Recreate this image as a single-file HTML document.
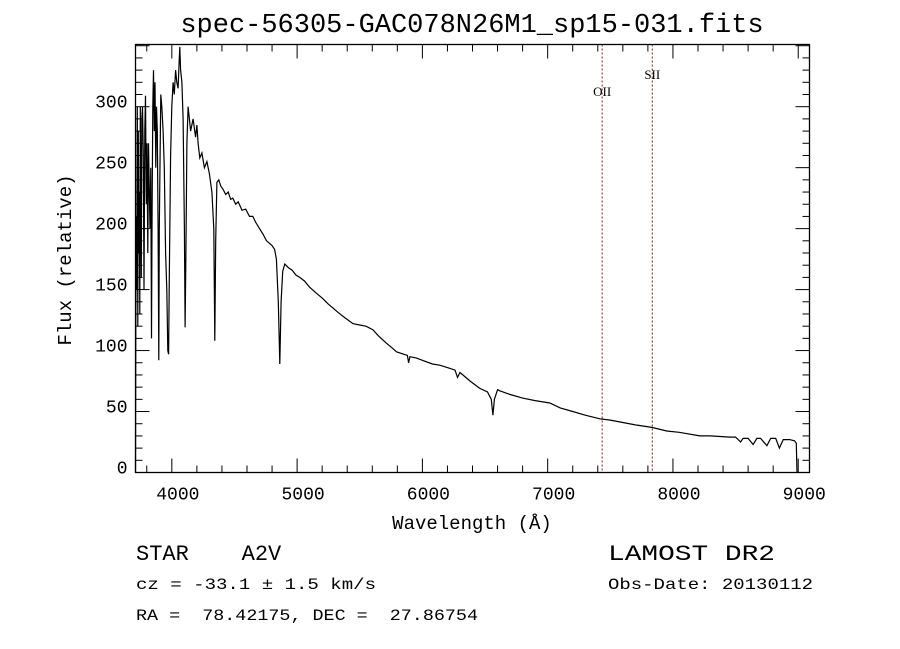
<!DOCTYPE html>
<html><head><meta charset="utf-8"><style>
body{margin:0;background:#fff;}
svg{display:block;font-family:"Liberation Mono","DejaVu Sans Mono",monospace;}
text{white-space:pre;}
</style></head><body>
<svg id="c" width="900" height="649" viewBox="0 0 900 649">
<rect width="900" height="649" fill="#fff"/>
<text x="472" y="32" font-size="27" text-anchor="middle">spec-56305-GAC078N26M1_sp15-031.fits</text>
<text x="472" y="529" font-size="19" text-anchor="middle">Wavelength (Å)</text>
<text transform="translate(71,260) rotate(-90)" font-size="19" text-anchor="middle">Flux (relative)</text>
<g id="ticks"></g>
<g id="lines"></g>
<path id="spec" fill="none" stroke="#000" stroke-width="1.2"/>
<rect x="135.5" y="44.5" width="674" height="428" fill="none" stroke="#000" stroke-width="1.3"/>
<text x="136" y="560" font-size="22" xml:space="preserve">STAR    A2V</text>
<text x="136" y="589" font-size="16" xml:space="preserve" textLength="240" lengthAdjust="spacingAndGlyphs">cz = -33.1 ± 1.5 km/s</text>
<text x="136" y="620" font-size="16" xml:space="preserve" textLength="342" lengthAdjust="spacingAndGlyphs">RA =  78.42175, DEC =  27.86754</text>
<text x="608" y="560" font-size="22" textLength="167" lengthAdjust="spacingAndGlyphs">LAMOST DR2</text>
<text x="608" y="589" font-size="16" textLength="205" lengthAdjust="spacingAndGlyphs">Obs-Date: 20130112</text>
</svg>
<script>
const wavelengths=[3710,3712,3716,3720,3724,3728,3732,3736,3740,3744,3748,3752,3756,3760,3766,3772,3778,3784,3790,3796,3802,3808,3814,3820,3826,3832,3838,3842,3848,3854,3860,3866,3872,3878,3884,3890,3896,3900,3906,3912,3920,3930,3940,3950,3960,3968,3974,3980,3990,4000,4010,4020,4030,4040,4050,4060,4064,4070,4080,4090,4100,4106,4112,4120,4130,4140,4150,4170,4190,4200,4210,4223,4240,4260,4280,4300,4320,4335,4343,4350,4360,4375,4390,4410,4430,4450,4470,4487,4510,4530,4560,4590,4620,4646,4670,4700,4730,4756,4780,4800,4820,4835,4850,4862,4872,4885,4902,4930,4960,4990,5021,5060,5100,5155,5200,5250,5286,5330,5380,5447,5500,5550,5606,5650,5713,5760,5793,5850,5880,5890,5900,5950,6000,6080,6139,6200,6260,6280,6300,6380,6458,6520,6550,6563,6575,6600,6618,6700,6800,6900,7017,7100,7200,7300,7416,7500,7600,7700,7831,7950,8050,8214,8300,8453,8500,8540,8560,8600,8640,8670,8700,8750,8780,8820,8850,8880,8930,8970,8985,8990];
const fluxes=[0,120,210,150,300,120,280,180,230,130,300,220,160,290,300,260,150,280,309,220,270,180,270,230,200,250,110,200,300,330,280,320,250,300,280,200,92,200,260,310,300,280,250,180,150,100,97,160,260,300,320,310,330,320,315,340,349,330,320,290,200,119,180,270,300,290,280,290,275,285,270,258,262,250,255,245,230,200,108,190,238,240,235,232,228,230,224,225,220,222,215,216,210,210,205,200,195,190,188,186,183,175,140,89,140,165,171,168,166,162,160,157,152,147,143,138,135,131,127,122,121,120,117,112,106,102,99,97,96,90,95,94,92,89,88,86,84,78,82,75,69,66,60,47,60,68,67,64,61,59,57,53,50,47,44,43,41,39,37,34,33,30,30,29,29,25,28,28,23,28,28,22,28,28,20,27,27,26,24,0];
const xTickValues=[4000,5000,6000,7000,8000,9000];
const xTickLabels=["4000","5000","6000","7000","8000","9000"];
const yTickValues=[0,50,100,150,200,250,300];
const yTickLabels=["0","50","100","150","200","250","300"];
const lineWavelengths=[7435,7835];
const lineLabels=["OII","SII"];
const lineLabelY=[96,79];

const X0=135.5,X1=809.5,Y0=472.5,Y1=44.5,WMIN=3710,WMAX=9090,FMIN=0,FMAX=351;
function xs(w){return X0+(w-WMIN)/(WMAX-WMIN)*(X1-X0);}
function ys(f){return Y0-(f-FMIN)/(FMAX-FMIN)*(Y0-Y1);}
const NS="http://www.w3.org/2000/svg";
const tg=document.getElementById('ticks');
function ln(x1,y1,x2,y2,n){const l=document.createElementNS(NS,'line');l.setAttribute('x1',x1);l.setAttribute('y1',y1);l.setAttribute('x2',x2);l.setAttribute('y2',y2);l.setAttribute('stroke','#000');l.setAttribute('stroke-width','1');


tg.appendChild(l);return l;}
function tx(x,y,s,anchor,n,size){const t=document.createElementNS(NS,'text');t.setAttribute('x',x);t.setAttribute('y',y);t.setAttribute('text-anchor',anchor);t.setAttribute('font-size',size);t.textContent=s;


return t;}
for(let w=3800;w<=9000;w+=200){const x=xs(w);const maj=w%1000===0;const L=maj?14:7;ln(x,Y0,x,Y0-L,'x-tick');ln(x,Y1,x,Y1+L,'x-tick-top');}
xTickValues.forEach((v,i)=>{tg.appendChild(tx(xs(v)+6,Y0+27,xTickLabels[i],'middle','x-tick-label',18));});
for(let f=0;f<=350;f+=10){const y=ys(f);const maj=f%50===0;const L=maj?14:7;ln(X0,y,X0+L,y,'y-tick');ln(X1,y,X1-L,y,'y-tick-right');}
yTickValues.forEach((v,i)=>{tg.appendChild(tx(X0-8,ys(v)+1,yTickLabels[i],'end','y-tick-label',18));});
const lg=document.getElementById('lines');
lineWavelengths.forEach((w,i)=>{const x=xs(w);const l=document.createElementNS(NS,'line');l.setAttribute('x1',x);l.setAttribute('x2',x);l.setAttribute('y1',Y1);l.setAttribute('y2',Y0);l.setAttribute('stroke','#8b1a1a');l.setAttribute('stroke-dasharray','2,2');


lg.appendChild(l);
const t=tx(x,lineLabelY[i],lineLabels[i],'middle','emission-line-label',13);t.setAttribute('font-family','Liberation Serif, serif');lg.appendChild(t);});
let d='';wavelengths.forEach((w,i)=>{d+=(i?'L':'M')+xs(w).toFixed(1)+','+ys(fluxes[i]).toFixed(1);});
document.getElementById('spec').setAttribute('d',d);
</script>
</body></html>
